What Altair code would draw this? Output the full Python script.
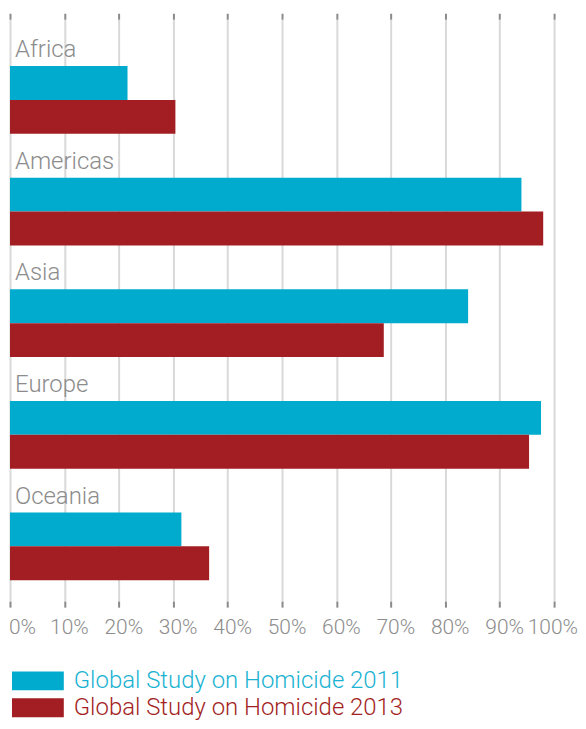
import altair as alt
import pandas as pd

regions = ["Africa", "Americas", "Asia", "Europe", "Oceania"]
series = ["Global Study on Homicide 2011", "Global Study on Homicide 2013"]
values_2011 = [21.6, 94.0, 84.2, 97.6, 31.5]
values_2013 = [30.4, 98.0, 68.7, 95.4, 36.6]
x_ticks = [0, 10, 20, 30, 40, 50, 60, 70, 80, 90, 100]
colors = ["#00abcd", "#a31e23"]

rows = []
for r, a, b in zip(regions, values_2011, values_2013):
    rows.append({"region": r, "series": series[0], "value": a})
    rows.append({"region": r, "series": series[1], "value": b})
df = pd.DataFrame(rows)
labels_df = pd.DataFrame({"region": regions})
ticks_df = pd.DataFrame({"t": x_ticks})

FONT = "Roboto"
GRAY = "#8c8c8c"
H = 584

x_scale = alt.Scale(domain=[0, 100], nice=False)
y_scale = alt.Scale(domain=regions, paddingInner=0, paddingOuter=0.1071, align=0.125)

rect_path = "M-2,-0.73H2V0.73H-2Z"

bars = alt.Chart(df).mark_bar().encode(
    x=alt.X("value:Q", scale=x_scale,
            axis=alt.Axis(values=x_ticks, orient="bottom", title=None, grid=True, labels=False)),
    y=alt.Y("region:N", scale=y_scale, axis=None),
    yOffset=alt.YOffset("series:N", scale=alt.Scale(domain=series, paddingInner=0,
                                                     paddingOuter=0.647, align=1)),
    color=alt.Color("series:N",
                    scale=alt.Scale(domain=series, range=colors),
                    legend=alt.Legend(orient="none", legendX=15, legendY=651, title=None,
                                      padding=0,
                                      symbolType=rect_path, symbolSize=676,
                                      symbolStrokeWidth=0, symbolOpacity=1,
                                      labelFont=FONT, labelFontWeight=300,
                                      labelFontSize=24, labelOffset=23, rowPadding=2,
                                      labelColor=alt.ExprRef(
                                          "datum.value === '" + series[0] + "' ? '#1ab2d2' : '#a31e23'"),
                                      labelLimit=500)),
)

labels = alt.Chart(labels_df).mark_text(
    align="left", baseline="alphabetic", dx=5, dy=-21,
    font=FONT, fontWeight=300, fontSize=24, color=GRAY
).encode(
    x=alt.X(datum=0, type="quantitative", scale=x_scale,
            axis=alt.Axis(values=x_ticks, orient="top", labels=False, grid=False, title=None)),
    y=alt.Y("region:N", scale=y_scale, axis=None),
    text="region:N",
)

tick_text = dict(baseline="middle", font=FONT, fontWeight=300, fontSize=21, color=GRAY, dy=27)

tick_base = alt.Chart(ticks_df).transform_calculate(label="datum.t + '%'")
tick_enc = dict(x=alt.X("t:Q", scale=x_scale, axis=None), y=alt.value(H), text=alt.Text("label:N"))

tick_first = tick_base.transform_filter("datum.t === 0").mark_text(
    align="left", dx=-1, **tick_text).encode(**tick_enc)
tick_mid = tick_base.transform_filter("datum.t > 0 && datum.t < 100").mark_text(
    align="center", dx=5, **tick_text).encode(**tick_enc)
tick_last = tick_base.transform_filter("datum.t === 100").mark_text(
    align="right", dx=24, **tick_text).encode(**tick_enc)

chart = alt.layer(bars, labels, tick_first, tick_mid, tick_last).properties(
    width=546, height=H,
    padding={"left": 1, "top": 3, "right": 0, "bottom": 0},
).configure_view(stroke=None).configure_axis(
    domain=False, tickColor="#8a8a8a", tickWidth=2, tickSize=6,
    gridColor="#d9d9d9", gridWidth=2,
)

chart.save("out.html", embed_options={"renderer": "svg", "actions": False})
